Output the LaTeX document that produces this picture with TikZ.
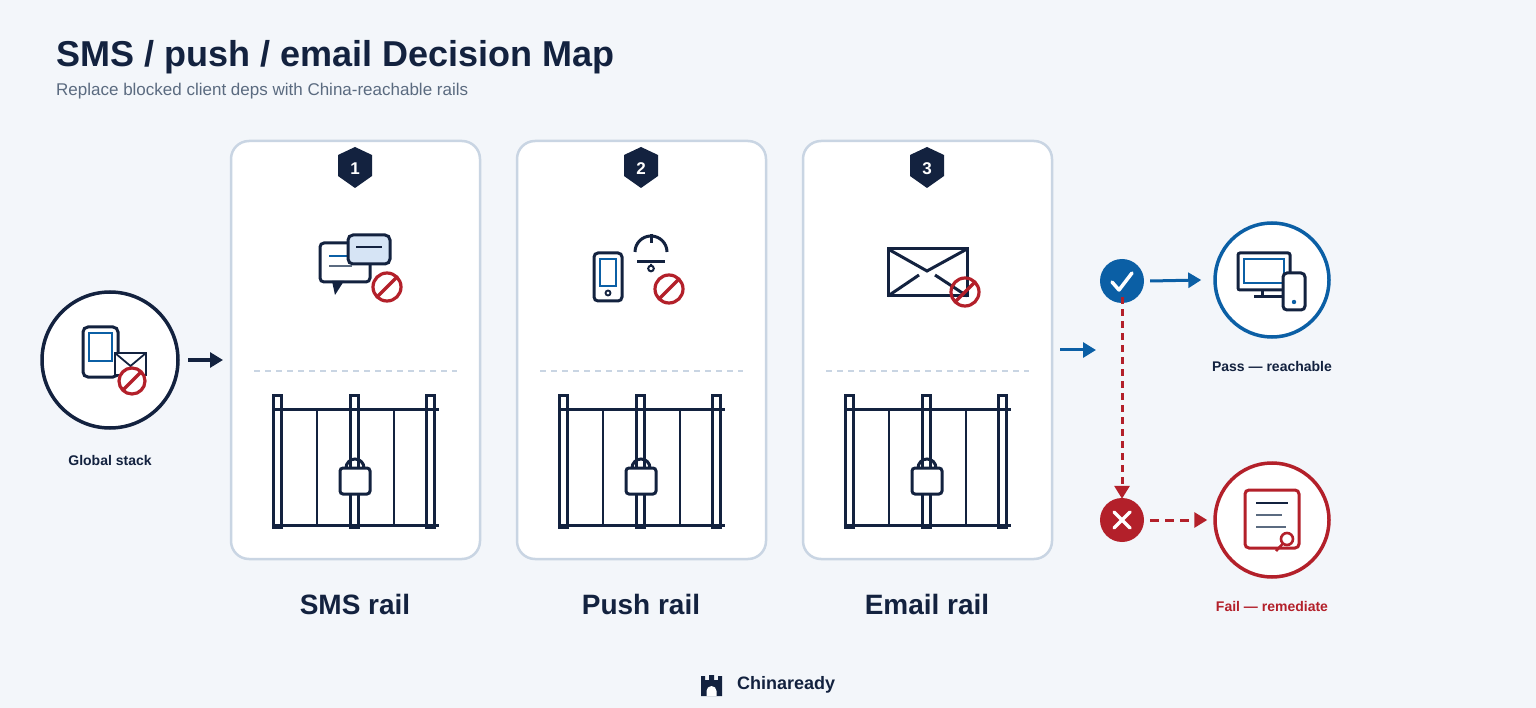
\documentclass[tikz,border=0pt]{standalone}
\usepackage{fontspec}
\setmainfont{Liberation Sans}
\usetikzlibrary{arrows.meta}
\definecolor{navy}{HTML}{13223F}
\definecolor{bblue}{HTML}{0B5FA5}
\definecolor{rred}{HTML}{B3202A}
\definecolor{bg}{HTML}{F3F6FA}
\definecolor{cardb}{HTML}{C9D5E3}
\definecolor{grayt}{HTML}{5B6B80}
\definecolor{lblue}{HTML}{D6E4F5}
\begin{document}
\begin{tikzpicture}[x=1pt,y=-1pt,
  card/.style={draw=cardb,line width=2.5pt,fill=white,rounded corners=18pt,minimum width=249pt,minimum height=418pt},
  ic/.style={draw=navy,line width=3pt},
  ban/.style={draw=rred,line width=3.2pt},
  lab/.style={font=\bfseries\fontsize{14}{16}\selectfont,text=navy},
  rail/.style={font=\bfseries\fontsize{28}{32}\selectfont,text=navy},
  nav/.style={-{Triangle[length=13pt,width=15pt]},line width=3pt}]
\fill[bg] (0,0) rectangle (1536,708);
\useasboundingbox (0,0) rectangle (1536,708);
\node[anchor=west,inner sep=0,font=\bfseries\fontsize{36}{42}\selectfont,text=navy] (title) at (56,57) {SMS / push / email Decision Map};
\node[anchor=west,inner sep=0,font=\fontsize{17}{20}\selectfont,text=grayt] (sub) at (56,91) {Replace blocked client deps with China-reachable rails};

\newcommand{\gate}[1]{
 \begin{scope}[shift={(#1,0)}]
  \draw[navy,line width=2pt] (-38,409)--(-38,525) (39,409)--(39,525);
  \foreach \px in {-78,-1,75} \draw[ic,fill=white] (\px-4,395) rectangle (\px+4,527);
  \draw[ic] (-83,409)--(84,409) (-83,525)--(84,525);
  \draw[ic] (-9,468) arc[start angle=180,end angle=360,radius=9];
  \draw[ic,fill=white,rounded corners=3pt] (-15,468) rectangle (15,494);
 \end{scope}}
\newcommand{\badge}[2]{\fill[navy] (#1-17,155)--(#1,147)--(#1+17,155)--(#1+17,176)--(#1,188)--(#1-17,176)--cycle;
 \node[text=white,font=\bfseries\fontsize{17}{19}\selectfont] at (#1,169) {#2};}

% cards
\node[card] (c1) at (355.5,350) {};
\node[card] (c2) at (641.5,350) {};
\node[card] (c3) at (927.5,350) {};
\foreach \cx in {355,641,927}{
 \draw[cardb,line width=1.8pt,dash pattern=on 6pt off 5pt] (\cx-101,371)--(\cx+102,371);
 \gate{\cx}}
\badge{355}{1}\badge{641}{2}\badge{927}{3}
\node[rail] (l1) at (355,604) {SMS rail};
\node[rail] (l2) at (641,604) {Push rail};
\node[rail] (l3) at (927,604) {Email rail};

% SMS icon
\draw[ic,fill=white,rounded corners=4pt] (320,243) rectangle (370,282);
\fill[navy] (332,281)--(344,281)--(335,295)--cycle;
\draw[bblue,line width=2.5pt] (329,256)--(350,256);
\draw[grayt,line width=2.5pt] (329,266)--(352,266);
\draw[ic,fill=lblue,rounded corners=5pt] (348,235) rectangle (390,264);
\draw[navy,line width=2.5pt] (356,247)--(382,247);
\draw[ban,fill=white] (387,287) circle (14); \draw[ban] (396.5,277.5)--(377.5,296.5);

% Push icon
\draw[ic,rounded corners=4pt] (594,253) rectangle (622,301);
\draw[bblue,line width=2.2pt] (600,259) rectangle (616,286);
\draw[navy,line width=1.8pt] (608,293) circle (2.5);
\draw[ic] (635,252) arc[start angle=180,end angle=360,radius=16];
\draw[ic] (651,234)--(651,243) (637,262)--(665,262);
\draw[navy,line width=2pt] (651,264)--(651,266) (651,268.5) circle (2.8);
\draw[ban,fill=white] (669,289) circle (14); \draw[ban] (678.5,279.5)--(659.5,298.5);

% Email icon
\draw[ic] (888,249) rectangle (967,296);
\draw[ic] (888,249)--(927,271)--(967,249);
\draw[ic] (888,296)--(919,275) (935,275)--(967,296);
\draw[ban] (965,292) circle (14); \draw[ban] (974.5,282.5)--(955.5,301.5);

% Global stack
\node[circle,draw=navy,line width=3.5pt,fill=white,minimum size=136pt] (gs) at (110,360) {};
\draw[ic,fill=white,rounded corners=5pt] (83,327) rectangle (118,377);
\draw[bblue,line width=2.2pt] (89,333) rectangle (112,361);
\draw[navy,line width=1.8pt,fill=white] (115,353) rectangle (146,375);
\draw[navy,line width=1.8pt] (115,353)--(130.5,366)--(146,353);
\draw[ban,fill=white] (132,381) circle (13); \draw[ban] (141,372)--(123,390);
\node[lab] (gsl) at (110,460) {Global stack};
\coordinate (gsa) at (188,360);
\coordinate (c1a) at (223,360);
\draw[nav,navy] (gsa) -- (c1a);

% decision side
\coordinate (din) at (1060,350);
\coordinate (dout) at (1096,350);
\draw[nav,bblue] (din)--(dout);
\node[circle,fill=bblue,minimum size=44pt,inner sep=0] (ok) at (1122,281) {};
\draw[white,line width=3.5pt,line cap=round,line join=round] (1112,282)--(1119,290)--(1132,273);
\node[circle,fill=rred,minimum size=44pt,inner sep=0] (ko) at (1122,520) {};
\draw[white,line width=3.5pt,line cap=round] (1114,512)--(1130,528) (1130,512)--(1114,528);
\node[circle,draw=bblue,line width=3.5pt,fill=white,minimum size=114pt] (pass) at (1272,280) {};
\node[circle,draw=rred,line width=3.5pt,fill=white,minimum size=114pt] (fail) at (1272,520) {};
\draw[nav,bblue] ([xshift=6pt]ok.east)--([xshift=-12pt]pass.west);
\draw[nav,rred,line width=3pt,dash pattern=on 7pt off 5pt] ([yshift=6pt]ok.south)--([yshift=-1pt]ko.north);
\draw[nav,rred,line width=3pt,dash pattern=on 9pt off 6pt] ([xshift=6pt]ko.east)--([xshift=-6pt]fail.west);
\node[lab] (pl) at (1272,366) {Pass — reachable};
\node[lab,text=rred] (fl) at (1272,606) {Fail — remediate};

% pass icon
\draw[ic,fill=white,rounded corners=2pt] (1238,253) rectangle (1290,290);
\draw[bblue,line width=2.2pt] (1244,259) rectangle (1284,283);
\draw[ic] (1262,290)--(1262,296) (1254,297)--(1282,297);
\draw[ic,fill=white,rounded corners=4pt] (1283,273) rectangle (1305,310);
\fill[bblue] (1294,302) circle (2.2);
% fail icon
\draw[draw=rred,line width=3pt,fill=white,rounded corners=4pt] (1245,490) rectangle (1299,548);
\draw[navy,line width=2.5pt] (1256,503)--(1288,503);
\draw[grayt,line width=2pt] (1256,515)--(1282,515) (1256,527)--(1286,527);
\draw[rred,line width=2.6pt,fill=white] (1287,539) circle (6);
\draw[rred,line width=2.6pt] (1283,543.5)--(1276,551);

% footer logo
\fill[navy] (701,676)--(705,676)--(705,680)--(709,680)--(709,675)--(714,675)--(714,680)--(718,680)--(718,676)--(722,676)--(722,696)--(701,696)--cycle;
\fill[white] (706.5,696)--(706.5,691) arc[start angle=180,end angle=360,radius=5]--(716.5,696)--cycle;
\node[anchor=west,inner sep=0,font=\bfseries\fontsize{18}{21}\selectfont,text=navy] (logo) at (737,685) {Chinaready};
\end{tikzpicture}
\end{document}
